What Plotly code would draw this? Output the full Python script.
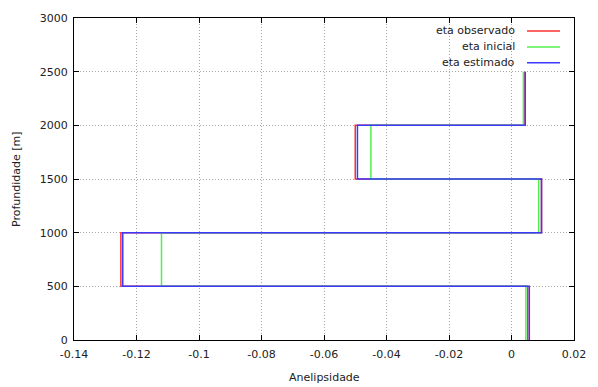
import plotly.graph_objects as go

# Layer boundaries (depth, m)
depths = [0, 500, 1000, 1500, 2000, 2500]
# Anelipsidade per layer (bottom -> top)
eta_observado = [0.0052, -0.125, 0.0096, -0.050, 0.0043]
eta_inicial = [0.0046, -0.112, 0.0087, -0.045, 0.0038]
eta_estimado = [0.0057, -0.1244, 0.0096, -0.0493, 0.0044]

x_ticks = [-0.14, -0.12, -0.1, -0.08, -0.06, -0.04, -0.02, 0, 0.02]
x_ticktext = ["-0.14", "-0.12", "-0.1", "-0.08", "-0.06", "-0.04", "-0.02", "0", "0.02"]
y_ticks = [0, 500, 1000, 1500, 2000, 2500, 3000]

names = ["eta observado", "eta inicial", "eta estimado"]
colors = ["#ff3030", "#50f050", "#3a3aff"]
series = [eta_observado, eta_inicial, eta_estimado]

FONT = "DejaVu Sans"
TXT = "#222222"

fig = go.Figure()
for name, col, vals in zip(names, colors, series):
    xs = list(vals) + [vals[-1]]
    fig.add_trace(go.Scatter(x=xs, y=depths, mode="lines", name=name,
                             line=dict(color=col, width=1.5, shape="vh"),
                             showlegend=False))

# gnuplot-style key (text right-aligned, sample line to the right)
leg_y = [0.960, 0.910, 0.861]
for name, col, yy in zip(names, colors, leg_y):
    fig.add_annotation(x=0.886, y=yy, xref="paper", yref="paper", text=name,
                       showarrow=False, xanchor="right", yanchor="middle",
                       font=dict(family=FONT, size=11, color=TXT))
    fig.add_shape(type="line", xref="paper", yref="paper",
                  x0=0.906, x1=0.972, y0=yy, y1=yy,
                  line=dict(color=col, width=1.5))

axis_common = dict(showline=True, linecolor="#000", linewidth=1, mirror="allticks",
                   ticks="inside", ticklen=5, tickcolor="#000",
                   showgrid=True, gridcolor="#a8a8a8", griddash="1px,2px", gridwidth=1,
                   zeroline=False, tickfont=dict(family=FONT, size=11, color=TXT))

fig.update_xaxes(range=[-0.14, 0.02], tickvals=x_ticks, ticktext=x_ticktext,
                 ticklabelstandoff=4, **axis_common)
fig.update_yaxes(range=[0, 3000], tickvals=y_ticks, ticklabelstandoff=3, **axis_common)

fig.add_annotation(x=0.5, y=-0.1176, xref="paper", yref="paper", text="Anelipsidade",
                   showarrow=False, xanchor="center", yanchor="middle",
                   font=dict(family=FONT, size=11, color=TXT))
fig.add_annotation(x=-0.116, y=0.5, xref="paper", yref="paper", text="Profundidade [m]",
                   showarrow=False, xanchor="center", yanchor="middle", textangle=-90,
                   font=dict(family=FONT, size=11, color=TXT))

fig.update_layout(width=598, height=387, margin=dict(l=74, r=16, t=17, b=47),
                  plot_bgcolor="white", paper_bgcolor="white",
                  font=dict(family=FONT))

fig.write_html("out.html")
